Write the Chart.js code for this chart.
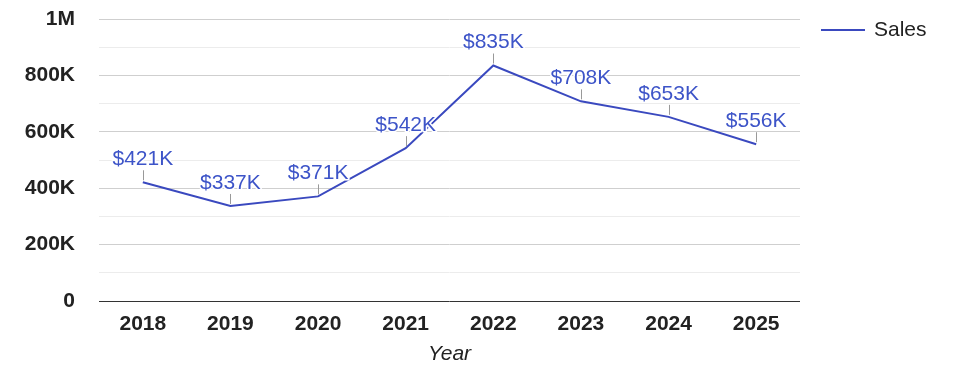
<!DOCTYPE html>
<html>
<head>
<meta charset="utf-8">
<script src="https://cdn.jsdelivr.net/npm/chart.js@4/dist/chart.umd.min.js"></script>
<style>
html,body{margin:0;padding:0;background:#fff;}
#wrap{width:975px;height:378px;position:relative;}
</style>
</head>
<body>
<div id="wrap"><canvas id="c" width="975" height="378"></canvas></div>
<script>
const years = ['2018','2019','2020','2021','2022','2023','2024','2025'];
const sales = [421000, 337000, 371000, 542000, 835000, 708000, 653000, 556000];
const salesLabels = ['$421K','$337K','$371K','$542K','$835K','$708K','$653K','$556K'];
const yTickLabels = {0:'0',200000:'200K',400000:'400K',600000:'600K',800000:'800K',1000000:'1M'};
const seriesName = 'Sales';

const FONT = '"Liberation Sans", Arial, sans-serif';
const LINE = '#3a49bf';
const LABEL = '#3d54c8';

const annot = {
  id: 'annot',
  afterDatasetsDraw(chart) {
    const ctx = chart.ctx;
    const meta = chart.getDatasetMeta(0);
    const ys = chart.scales.y;
    ctx.save();
    meta.data.forEach((pt, i) => {
      const x = pt.x;
      const y = ys.getPixelForValue(sales[i]);
      ctx.strokeStyle = '#999';
      ctx.lineWidth = 1;
      ctx.beginPath();
      ctx.moveTo(Math.round(x) + 0.5, y - 2);
      ctx.lineTo(Math.round(x) + 0.5, y - 12);
      ctx.stroke();
      ctx.font = '21px ' + FONT;
      ctx.textAlign = 'center';
      ctx.textBaseline = 'middle';
      ctx.lineWidth = 3;
      ctx.strokeStyle = '#fff';
      ctx.lineJoin = 'round';
      ctx.strokeText(salesLabels[i], x, y - 23);
      ctx.fillStyle = LABEL;
      ctx.fillText(salesLabels[i], x, y - 23);
    });
    // legend
    ctx.strokeStyle = LINE;
    ctx.lineWidth = 2;
    ctx.beginPath();
    ctx.moveTo(821, 30);
    ctx.lineTo(865, 30);
    ctx.stroke();
    ctx.font = '21px ' + FONT;
    ctx.textAlign = 'left';
    ctx.textBaseline = 'middle';
    ctx.fillStyle = '#222';
    ctx.fillText(seriesName, 874, 30);
    ctx.restore();
  }
};

new Chart(document.getElementById('c'), {
  type: 'line',
  data: {
    labels: years,
    datasets: [{
      label: seriesName,
      data: sales,
      borderColor: LINE,
      backgroundColor: LINE,
      borderWidth: 2,
      pointRadius: 0,
      tension: 0
    }]
  },
  options: {
    responsive: false,
    animation: false,
    layout: { padding: { left: 0, right: 175, top: 19, bottom: 0 } },
    plugins: { legend: { display: false }, tooltip: { enabled: false } },
    scales: {
      x: {
        offset: true,
        grid: { display: false, drawTicks: false },
        border: { display: false },
        ticks: { color: '#222', font: { family: FONT, size: 21, weight: 'bold' }, padding: 11, maxRotation: 0 },
        title: { display: true, text: 'Year', color: '#222', font: { family: FONT, size: 21, style: 'italic' }, padding: { top: 0, bottom: 11 } },
        afterFit(s) { s.height = 77; }
      },
      y: {
        min: 0, max: 1000000,
        ticks: {
          stepSize: 100000,
          autoSkip: false,
          color: '#222',
          font: { family: FONT, size: 21, weight: 'bold' },
          padding: 0,
          callback: (v) => (yTickLabels[v] !== undefined ? yTickLabels[v] : '')
        },
        grid: {
          drawTicks: true,
          tickLength: 24,
          tickColor: 'rgba(0,0,0,0)',
          color: (c) => c.tick.value === 0 ? '#333' : (c.tick.value % 200000 === 0 ? '#cfcfcf' : '#ececec'),
          lineWidth: 1
        },
        border: { display: false },
        afterFit(s) { s.width = 99; }
      }
    }
  },
  plugins: [annot]
});
</script>
</body>
</html>
